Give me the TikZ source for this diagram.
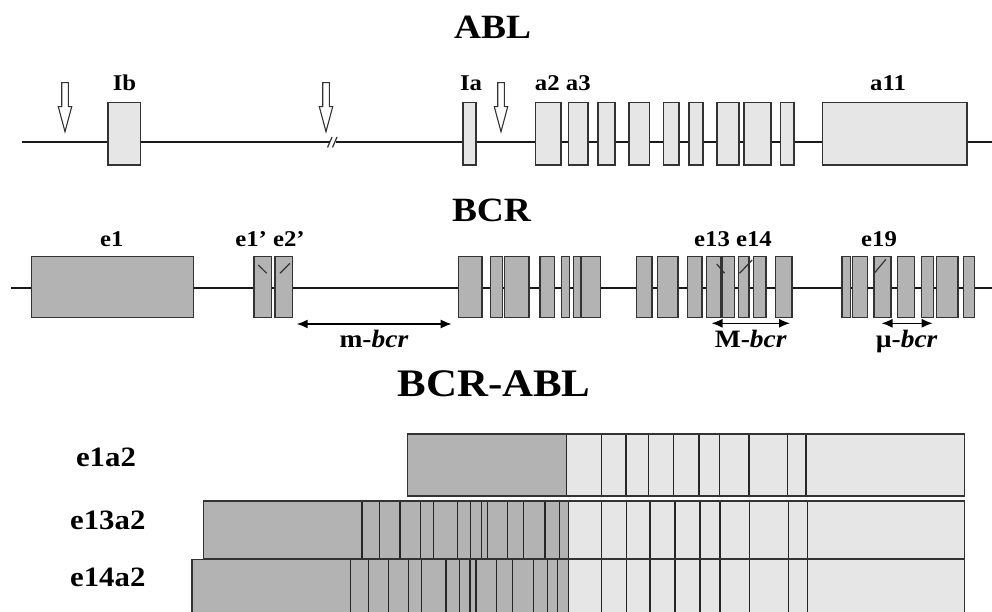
\documentclass[tikz,border=0pt]{standalone}
\usepackage{fontspec}
\setmainfont[FakeStretch=1.1]{Liberation Serif}
\usetikzlibrary{arrows.meta}
\definecolor{ablfill}{HTML}{E6E6E6}
\definecolor{bcrfill}{HTML}{B3B3B3}
\definecolor{edgecol}{HTML}{333333}
\begin{document}
\begin{tikzpicture}[x=1pt,y=-1pt,
  exonA/.style={fill=ablfill,draw=edgecol,line width=1.5pt},
  exonB/.style={fill=bcrfill,draw=edgecol,line width=1.5pt},
  chrom/.style={line width=2pt,draw=black!90},
  divline/.style={draw=black!85,line width=1.5pt},
  hollow/.style={fill=white,draw=edgecol,line width=1.1pt},
  tick/.style={draw=edgecol,line width=1.2pt},
  region/.style={line width=1.5pt,{Latex[length=11pt,width=9pt]}-{Latex[length=11pt,width=9pt]}},
  bigtitle/.style={font=\bfseries\fontsize{34}{34}\selectfont,anchor=base,inner sep=0pt},
  fusiontitle/.style={font=\bfseries\fontsize{39}{39}\selectfont,anchor=base,inner sep=0pt},
  lab/.style={font=\bfseries\fontsize{22.5}{22.5}\selectfont,anchor=base,inner sep=0pt},
  bcrlab/.style={font=\bfseries\fontsize{25}{25}\selectfont,anchor=base,inner sep=0pt},
  rowlab/.style={font=\bfseries\fontsize{28}{28}\selectfont,anchor=base,inner sep=0pt}]
\useasboundingbox (0,0) rectangle (992,612);
\clip (0,0) rectangle (992,612);

% ---------------- ABL ----------------
\node[bigtitle] (ablT) at (492.5,38.3) {ABL};
\draw[chrom] (22,142) -- (992,142);
\fill[white] (329.5,135) rectangle (335.5,149);
\draw[tick] (327.5,147.5) -- (332,137);
\draw[tick] (332.5,147.5) -- (337,137);
\foreach \a/\b in {108/140.7, 463.1/475.9, 535.7/561.2, 568.5/588.2, 597.8/614.8,
  628.9/649.7, 663.5/679, 689/703.2, 717/739.1, 744/771.2, 780.6/794, 822.5/966.8}
  \draw[exonA] (\a,102.7) rectangle (\b,165);
\foreach \x in {65,326,501}
  \draw[hollow] ({\x-3.3},82.7) -- ({\x+3.3},82.7) -- ({\x+3.3},106.7) -- ({\x+6.7},106.7)
    -- (\x,131.7) -- ({\x-6.7},106.7) -- ({\x-3.3},106.7) -- cycle;
\node[lab] (ib) at (124.5,90.7) {Ib};
\node[lab] (ia) at (471,90.7) {Ia};
\node[lab] (a23) at (562.8,90.7) {a2 a3};
\node[lab] (a11) at (888,90.7) {a11};

% ---------------- BCR ----------------
\node[bigtitle] (bcrT) at (491.5,221.7) {BCR};
\draw[chrom] (11,287.7) -- (992,287.7);
\foreach \a/\b in {31.7/193.3, 254/271.7, 275/292.7, 458.6/481.8, 490.4/502.5, 504.6/528.8,
  539.8/554.7, 561.6/569.5, 573.3/580.6, 581.6/600.3, 636.5/652.1, 657.3/678, 687.7/702.2,
  706.3/721.2, 722.2/734.3, 738.4/748.8, 753.3/766.1, 775.4/792, 842.1/850.5, 852.4/867.3,
  874.2/890.8, 897.7/914.6, 921.5/933.6, 936.4/957.8, 963.6/974.4}
  \draw[exonB] (\a,256.7) rectangle (\b,317.5);
\draw[tick] (258.3,265) -- (266.7,273.3);
\draw[tick] (280,273.3) -- (290,263.3);
\draw[tick] (716.7,264) -- (724.6,273.3);
\draw[tick] (739.5,273.3) -- (752.2,260);
\draw[tick] (874.2,273.3) -- (885.9,259.3);
\node[lab] (e1) at (111.7,246.7) {e1};
\node[lab] (e12p) at (270,246.7) {e1’ e2’};
\node[lab] (e1314) at (733,246.7) {e13 e14};
\node[lab] (e19) at (879,246.7) {e19};

\coordinate (mL) at (296.7,324);
\coordinate (mR) at (451.7,324);
\coordinate (ML) at (711.5,323.3);
\coordinate (MR) at (790,323.3);
\coordinate (uL) at (881.5,323.3);
\coordinate (uR) at (932.7,323.3);
\draw[region] (mL) -- (mR);
\draw[region] (ML) -- (MR);
\draw[region] (uL) -- (uR);
\node[bcrlab] (mbcr) at (374,347) {m-\textit{bcr}};
\node[bcrlab] (Mbcr) at (750.8,347) {M-\textit{bcr}};
\node[bcrlab] (ubcr) at (906.7,347) {µ-\textit{bcr}};

% ---------------- BCR-ABL ----------------
\node[fusiontitle] (fusT) at (494,396) {BCR-ABL};

% row e1a2
\fill[bcrfill] (407.3,434) rectangle (566.5,496);
\fill[ablfill] (566.5,434) rectangle (964.3,496);
\foreach \x in {566.5,601.7,626,648.3,673.3,699,719.3,749,787.3,806}
  \draw[divline] (\x,434) -- (\x,496);
\draw[edgecol,line width=1.6pt] (407.3,434) rectangle (964.3,496);

% row e13a2
\fill[bcrfill] (203.3,500.7) rectangle (568.3,559);
\fill[ablfill] (568.3,500.7) rectangle (964.3,559);
\foreach \x in {362,379.3,400,420.7,433.3,457.3,470.7,481.7,487.7,507.7,523.3,545,559.3,568.3,
  601.7,626.7,650,675,700,720,749.3,788.3,807.3}
  \draw[divline] (\x,500.7) -- (\x,559);
\draw[edgecol,line width=1.6pt] (203.3,500.7) rectangle (964.3,559);

% row e14a2
\fill[bcrfill] (191.7,559.5) rectangle (568.3,620);
\fill[ablfill] (568.3,559.5) rectangle (964.3,620);
\foreach \x in {350.7,368.3,388.3,408.3,421.7,446,459.3,470,476,496.7,512.3,533.3,547.7,557.3,568.3,
  601.7,626.7,650,675,700,720,749.3,788.3,807.3}
  \draw[divline] (\x,559.5) -- (\x,620);
\draw[edgecol,line width=1.6pt] (191.7,559.5) rectangle (964.3,620);

\node[rowlab] (r1) at (106,466) {e1a2};
\node[rowlab] (r2) at (107.8,529.3) {e13a2};
\node[rowlab] (r3) at (107.8,586.7) {e14a2};
\end{tikzpicture}
\end{document}
